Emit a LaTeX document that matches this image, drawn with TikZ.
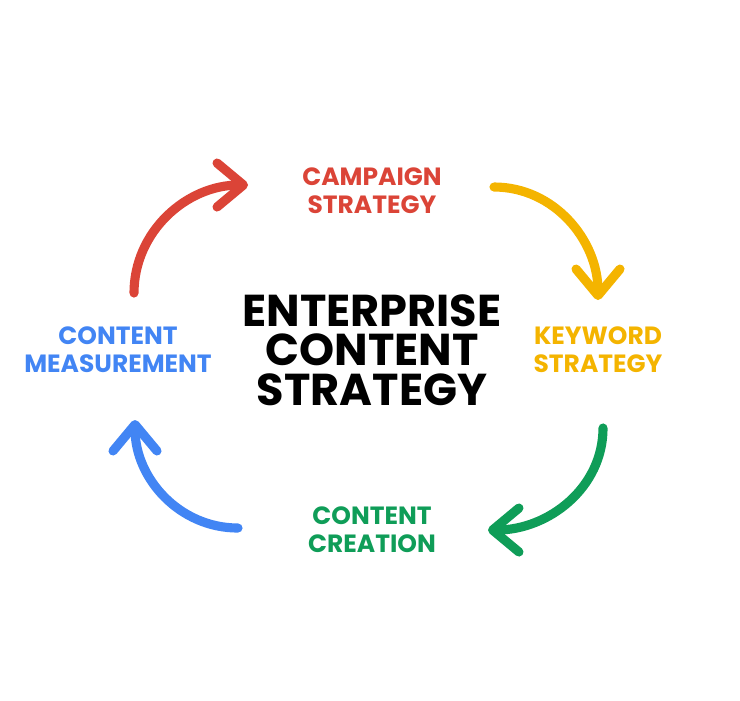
\documentclass[tikz,border=0pt]{standalone}
\usepackage{fontspec}
\setmainfont{Poppins}
\usetikzlibrary{arrows.meta}
\definecolor{gred}{HTML}{DB4437}
\definecolor{gyellow}{HTML}{F4B400}
\definecolor{ggreen}{HTML}{0F9D58}
\definecolor{gblue}{HTML}{4285F4}
\begin{document}
\begin{tikzpicture}[
  core/.style={align=center, font=\bfseries\fontsize{12.7}{11.3}\selectfont},
  stage/.style={align=center, font=\bfseries\fontsize{7.1}{7.9}\selectfont},
  turn/.style={line width=2.6pt, line cap=round, -{Straight Barb[length=7.5pt, width=12.5pt, round]}},
  node distance=2.5cm
]
\useasboundingbox (0,0) rectangle (7.4,7.0);
\node[core] (core) at (3.72,3.50) {ENTERPRISE\\CONTENT\\STRATEGY};
\node[stage, text=gred, above of=core, node distance=1.59cm] (campaign) {CAMPAIGN\\STRATEGY};
\node[stage, text=gyellow, right of=core, node distance=2.26cm] (keyword) {KEYWORD\\STRATEGY};
\node[stage, text=ggreen, below of=core, node distance=1.80cm] (creation) {CONTENT\\CREATION};
\node[stage, text=gblue, left of=core, node distance=2.54cm] (measure) {CONTENT\\MEASUREMENT};

% arrow ends
\coordinate (r1) at (1.34,4.07);
\coordinate (r2) at (2.48,5.15);
\coordinate (y1) at (4.94,5.13);
\coordinate (y2) at (5.98,4.00);
\coordinate (g1) at (6.03,2.72);
\coordinate (g2) at (4.88,1.70);
\coordinate (b1) at (2.38,1.72);
\coordinate (b2) at (1.35,2.80);

% cycle
\draw[turn, gred] (r1) to[out=90, in=180] (r2);
\draw[turn, gyellow] (y1) to[out=0, in=90] (y2);
\draw[turn, ggreen] (g1) to[out=-90, in=0] (g2);
\draw[turn, gblue] (b1) to[out=180, in=-90] (b2);
\end{tikzpicture}
\end{document}
